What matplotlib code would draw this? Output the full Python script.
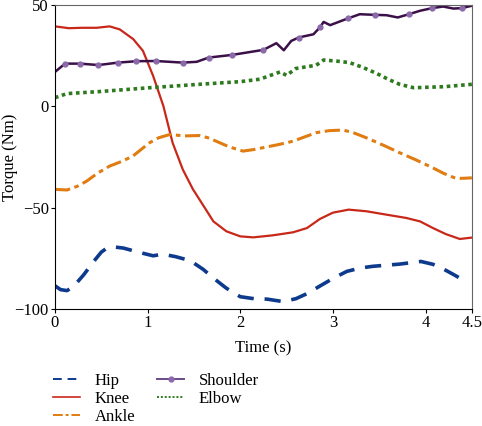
import matplotlib
matplotlib.use("Agg")
import matplotlib.pyplot as plt

plt.rcParams['font.family'] = ['Liberation Serif', 'DejaVu Serif']

hip_t = [0, 0.06, 0.13, 0.2, 0.31, 0.42, 0.5, 0.56, 0.65, 0.74, 0.9, 1.06, 1.16, 1.3, 1.46, 1.6, 1.71, 1.85, 2.0, 2.15, 2.29, 2.46, 2.6, 2.72, 2.82, 3.0, 3.15, 3.3, 3.43, 3.72, 3.95, 4.08, 4.2, 4.3, 4.37, 4.42]
hip_v = [-88.6, -90.5, -91, -89, -83.2, -76.5, -72, -70, -69.5, -70, -72, -73.8, -73, -74.2, -76.2, -80.5, -84.8, -89.8, -94, -95, -95.2, -96.4, -95, -92.5, -89.8, -85, -81.5, -79.8, -79, -77.9, -76.6, -78, -80.5, -83, -84.8, -86.5]

knee_t = [0, 0.15, 0.29, 0.45, 0.59, 0.70, 0.845, 0.95, 1.06, 1.17, 1.27, 1.38, 1.49, 1.56, 1.71, 1.85, 2.0, 2.14, 2.35, 2.57, 2.72, 2.86, 3.0, 3.17, 3.36, 3.58, 3.79, 3.94, 4.08, 4.22, 4.37, 4.5]
knee_v = [39.5, 38.6, 38.8, 38.8, 39.5, 38, 33.2, 27.4, 15, 0.2, -18, -31.2, -41, -46, -56.8, -61.7, -64.2, -64.7, -63.7, -62.2, -60.1, -55.6, -52.5, -51, -51.8, -53.5, -55.1, -56.8, -60.1, -63.1, -65.5, -64.8]

ankle_t = [0, 0.13, 0.24, 0.34, 0.46, 0.59, 0.72, 0.84, 0.93, 1.02, 1.12, 1.24, 1.4, 1.56, 1.65, 1.74, 1.88, 2.03, 2.15, 2.28, 2.42, 2.57, 2.7, 2.82, 2.96, 3.11, 3.22, 3.36, 3.55, 3.72, 3.9, 4.08, 4.2, 4.33, 4.42, 4.5]
ankle_v = [-41, -41.3, -39.5, -37, -33, -29.5, -27.2, -24.6, -21.3, -18, -15.5, -13.9, -14.6, -14.4, -15.5, -17.2, -20, -22.1, -21.3, -20.1, -18.8, -17.2, -15, -13, -12, -11.7, -13, -15.5, -19.3, -22.9, -26.5, -30.4, -33.2, -35.6, -35.5, -35.3]

shoulder_t = [0, 0.11, 0.27, 0.47, 0.68, 0.88, 1.09, 1.38, 1.53, 1.66, 1.91, 2.25, 2.39, 2.47, 2.55, 2.63, 2.79, 2.86, 2.9, 2.97, 3.16, 3.29, 3.45, 3.58, 3.70, 3.82, 3.94, 4.07, 4.19, 4.3, 4.39, 4.5]
shoulder_v = [17, 21.1, 21.1, 20.4, 21.6, 22.3, 22.4, 21.6, 22, 24.1, 25.4, 27.9, 31.2, 27.7, 32.3, 34, 35.6, 39, 41.7, 40.1, 43.4, 45.5, 45.2, 45, 43.9, 45.5, 47.2, 48.5, 49.3, 48.3, 48.5, 49.7]
shoulder_marks = [1, 2, 3, 4, 5, 6, 7, 9, 10, 11, 15, 17, 20, 22, 25, 27, 30]

elbow_t = [0, 0.13, 0.48, 1.02, 1.56, 2.0, 2.21, 2.43, 2.5, 2.6, 2.82, 2.9, 3.05, 3.18, 3.32, 3.47, 3.6, 3.72, 3.87, 4.2, 4.5]
elbow_v = [4.3, 6.3, 7.3, 9.2, 10.9, 12.2, 13.4, 17, 15.3, 18.7, 20.3, 22.9, 22.3, 21.6, 19.3, 16.3, 13.3, 10.9, 9.2, 9.7, 10.9]

xticks = [0, 1, 2, 3, 4, 4.5]
xticklabels = ['0', '1', '2', '3', '4', '4.5']
yticks = [-100, -50, 0, 50]

fig = plt.figure(figsize=(4.82, 4.26), dpi=100)
ax = fig.add_axes([0.114, 0.275, 0.865, 0.713])

ax.plot(hip_t, hip_v, color='#0e3a8e', lw=2.6, dashes=(4.5, 3), label='Hip')
ax.plot(knee_t, knee_v, color='#c8281a', lw=1.6, label='Knee')
ax.plot(ankle_t, ankle_v, color='#e07c10', lw=2.2, dashes=(5, 1.5, 1.5, 1.5), label='Ankle')
ax.plot(shoulder_t, shoulder_v, color='#3b1048', lw=1.8, marker='o', ms=3.5,
        markevery=shoulder_marks, mfc='#8a6aaa', mec='#8a6aaa', label='Shoulder')
ax.plot(elbow_t, elbow_v, color='#2e7a1e', lw=2.6, dashes=(1, 1), label='Elbow')

ax.set_xlim(0, 4.5)
ax.set_ylim(-100, 50)
ax.set_xticks(xticks)
ax.set_xticklabels(xticklabels)
ax.set_yticks(yticks)
ax.tick_params(labelsize=12, length=3, pad=1.5, direction='out', top=False, right=False)
ax.set_xlabel('Time (s)', fontsize=12, labelpad=7)
ax.set_ylabel('Torque (Nm)', fontsize=12)
ax.yaxis.set_label_coords(-0.088, 0.5)
for s in ['top', 'right']:
    ax.spines[s].set_color('#666666')
leg = ax.legend(loc='upper left', bbox_to_anchor=(-0.02, -0.19), ncol=2, frameon=False,
                fontsize=12, handlelength=1.6, handletextpad=0.9, columnspacing=1.3,
                labelspacing=0.1, borderaxespad=0)
for h in leg.get_lines():
    h.set_linewidth(1.4)
leg.get_lines()[1].set_linewidth(1.2)
leg.get_lines()[3].set_color('#6a4a8a')

fig.savefig('out.png', dpi=100)
